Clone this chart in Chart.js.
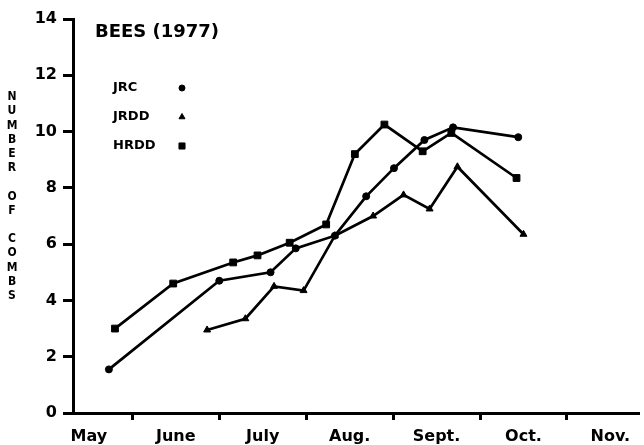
<!DOCTYPE html>
<html>
<head>
<meta charset="utf-8">
<script src="https://cdn.jsdelivr.net/npm/chart.js@4"></script>
<style>
  html, body { margin: 0; padding: 0; background: #fff; }
  #chart { display: block; }
</style>
</head>
<body>
<canvas id="chart" width="644" height="445"></canvas>
<script>
// x = months after May 1 (1 = June 1, 2 = July 1 ...), y = number of combs
const monthLabels = ["May", "June", "July", "Aug.", "Sept.", "Oct.", "Nov."];

const jrcX = [0.73, 2.0, 2.59, 2.88, 3.33, 3.69, 4.01, 4.36, 4.69, 5.44];
const jrcY = [1.55, 4.7, 5.0, 5.85, 6.3, 7.7, 8.7, 9.7, 10.15, 9.8];

const jrddX = [1.86, 2.3, 2.63, 2.97, 3.33, 3.77, 4.12, 4.42, 4.74, 5.5];
const jrddY = [2.95, 3.35, 4.5, 4.35, 6.3, 7.0, 7.75, 7.25, 8.75, 6.35];

const hrddX = [0.8, 1.47, 2.16, 2.44, 2.81, 3.23, 3.56, 3.9, 4.34, 4.67, 5.42];
const hrddY = [3.0, 4.6, 5.35, 5.6, 6.05, 6.7, 9.2, 10.25, 9.3, 9.95, 8.35];

const yTitle = ["N", "U", "M", "B", "E", "R", "", "O", "F", "", "C", "O", "M", "B", "S"];

const toPoints = (xs, ys) => xs.map((x, i) => ({ x: x, y: ys[i] }));

const series = [
  { label: "JRC", style: "circle", radius: 3.5, data: toPoints(jrcX, jrcY) },
  { label: "JRDD", style: "triangle", radius: 4, data: toPoints(jrddX, jrddY) },
  { label: "HRDD", style: "rect", radius: 4.8, data: toPoints(hrddX, hrddY) },
];

const boldFont = "'DejaVu Sans', 'Liberation Sans', sans-serif";

// title, legend (text then marker) and the stacked y-axis title
const decorations = {
  id: "decorations",
  afterDraw(chart) {
    const ctx = chart.ctx;
    ctx.save();
    ctx.fillStyle = "#000";
    ctx.strokeStyle = "#000";
    ctx.textBaseline = "middle";
    ctx.textAlign = "left";
    ctx.font = "bold 18px " + boldFont;
    ctx.fillText("BEES (1977)", 95, 32);

    ctx.font = "bold 13px " + boldFont;
    series.forEach((s, i) => {
      const y = 88 + i * 29;
      ctx.fillText(s.label, 113, y);
      Chart.helpers.drawPoint(ctx, {
        pointStyle: s.style,
        radius: s.radius - 0.5,
        rotation: 0,
        borderWidth: 1,
      }, 182, y);
    });
    ctx.restore();

    ctx.save();
    ctx.fillStyle = "#000";
    ctx.textAlign = "center";
    ctx.textBaseline = "middle";
    ctx.font = "bold 12px 'Liberation Sans Narrow', 'DejaVu Sans Condensed', 'DejaVu Sans', sans-serif";
    yTitle.forEach((ch, i) => {
      if (ch) ctx.fillText(ch, 12, 97 + i * 14.2);
    });
    ctx.restore();
  },
};

const ctx = document.getElementById("chart").getContext("2d");
new Chart(ctx, {
  type: "line",
  data: {
    datasets: series.map((s) => ({
      label: s.label,
      data: s.data,
      borderColor: "#000",
      backgroundColor: "#000",
      borderWidth: 2.7,
      pointStyle: s.style,
      pointRadius: s.radius,
      pointBorderWidth: 1,
      tension: 0,
      fill: false,
    })),
  },
  options: {
    responsive: false,
    devicePixelRatio: 1,
    animation: false,
    layout: { padding: { top: 19, right: 0, bottom: 0, left: 0 } },
    plugins: {
      legend: { display: false },
      tooltip: { enabled: false },
    },
    elements: { point: { backgroundColor: "#000", borderColor: "#000" } },
    scales: {
      x: {
        type: "linear",
        min: 0.317,
        max: 6.82,
        border: { color: "#000", width: 3 },
        grid: {
          drawOnChartArea: false,
          tickLength: 7,
          lineWidth: 3,
          color: (c) => (c.tick && Number.isInteger(c.tick.value) ? "#000" : "rgba(0,0,0,0)"),
        },
        afterBuildTicks(scale) {
          const ticks = [];
          for (let i = 0; i < monthLabels.length; i++) {
            ticks.push({ value: i + 0.5 });
            if (i + 1 < monthLabels.length) ticks.push({ value: i + 1 });
          }
          scale.ticks = ticks;
        },
        afterFit(scale) {
          scale.height = 32;
        },
        ticks: {
          autoSkip: false,
          maxRotation: 0,
          padding: 7,
          color: "#000",
          font: { family: boldFont, size: 16, weight: "bold" },
          callback: (value) => {
            if (Number.isInteger(value)) return "";
            return monthLabels[Math.floor(value)];
          },
        },
      },
      y: {
        min: 0,
        max: 14,
        border: { color: "#000", width: 3 },
        grid: {
          drawOnChartArea: false,
          tickLength: 10,
          lineWidth: 3,
          color: "#000",
        },
        afterFit(scale) {
          scale.width = 73;
        },
        ticks: {
          stepSize: 2,
          padding: 6,
          color: "#000",
          font: { family: boldFont, size: 16, weight: "bold" },
        },
      },
    },
  },
  plugins: [decorations],
});
</script>
</body>
</html>
